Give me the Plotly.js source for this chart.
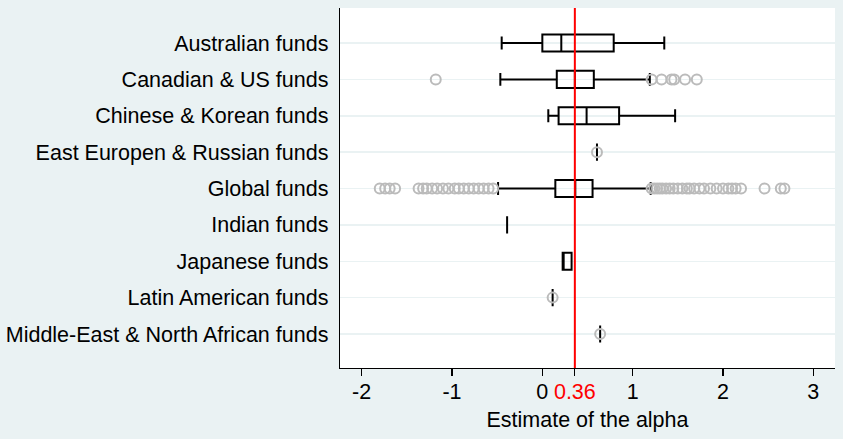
<!DOCTYPE html>
<html>
<head>
<meta charset="utf-8">
<script src="https://cdn.plot.ly/plotly-3.0.1.min.js"></script>
<style>html,body{margin:0;padding:0;background:#EAF2F3;}#chart{width:843px;height:439px;}</style>
</head>
<body>
<div id="chart"></div>
<script>
// ---- data ----
var categories = [
  "Australian funds",
  "Canadian & US funds",
  "Chinese & Korean funds",
  "East Europen & Russian funds",
  "Global funds",
  "Indian funds",
  "Japanese funds",
  "Latin American funds",
  "Middle-East & North African funds"
];
var lowerFence = [-0.45, -0.465, 0.066, 0.605, -0.49, -0.39, 0.225, 0.114, 0.64];
var q1Values    = [0.00, 0.16, 0.18, 0.605, 0.144, -0.39, 0.225, 0.114, 0.64];
var medianVals  = [0.21, 0.36, 0.49, 0.605, 0.365, -0.39, 0.225, 0.114, 0.64];
var q3Values    = [0.79, 0.57, 0.85, 0.605, 0.556, -0.39, 0.324, 0.114, 0.64];
var upperFence  = [1.35, 1.19, 1.47, 0.605, 1.20, -0.39, 0.324, 0.114, 0.64];

var outliersAustralian = [];
var outliersCanadian = [-1.18, 1.21, 1.32, 1.43, 1.46, 1.58, 1.71];
var outliersChinese = [];
var outliersEastEurope = [0.605];
var outliersGlobal = [-1.80, -1.74, -1.69, -1.63, -1.37, -1.32, -1.28, -1.22, -1.165, -1.10, -1.04,
  -0.97, -0.925, -0.87, -0.815, -0.76, -0.705, -0.65, -0.595, -0.545,
  1.21, 1.24, 1.27, 1.30, 1.33, 1.37, 1.41, 1.45, 1.50, 1.55, 1.60, 1.63, 1.68, 1.74, 1.79,
  1.86, 1.93, 2.00, 2.06, 2.10, 2.14, 2.20, 2.46, 2.64, 2.68];
var outliersIndian = [];
var outliersJapanese = [];
var outliersLatin = [0.114];
var outliersMiddleEast = [0.64];

var refLine = 0.36;
var tickValues = [-2, -1, 0, 0.36, 1, 2, 3];
var tickLabels = ["-2", "-1", "0", "<span style=\"color:#FF0000\">0.36</span>", "1", "2", "3"];

// ---- build traces ----
var outlierGroups = [outliersAustralian, outliersCanadian, outliersChinese, outliersEastEurope,
  outliersGlobal, outliersIndian, outliersJapanese, outliersLatin, outliersMiddleEast];
var ox = [], oy = [];
outlierGroups.forEach(function (g, i) {
  g.forEach(function (v) { ox.push(v); oy.push(categories[i]); });
});

var outlierTrace = {
  type: "scatter", mode: "markers", x: ox, y: oy,
  marker: { symbol: "circle-open", size: 10, color: "#BBBBBB", line: { width: 2, color: "#BBBBBB" } },
  hoverinfo: "skip", showlegend: false
};

var boxTrace = {
  type: "box", orientation: "h",
  y: categories,
  q1: q1Values, median: medianVals, q3: q3Values,
  lowerfence: lowerFence, upperfence: upperFence,
  boxpoints: false,
  width: 0.47, whiskerwidth: 0.75,
  line: { color: "#000000", width: 2 },
  fillcolor: "rgba(255,255,255,0)",
  hoverinfo: "skip", showlegend: false
};

var layout = {
  width: 843, height: 439,
  margin: { l: 339.5, r: 8, t: 8, b: 71.3 },
  paper_bgcolor: "#EAF2F3", plot_bgcolor: "#FFFFFF",
  font: { family: "Arial, 'Liberation Sans', sans-serif", size: 21.5, color: "#000000" },
  showlegend: false,
  xaxis: {
    range: [-2.24, 3.24], tickvals: tickValues, ticktext: tickLabels,
    ticks: "outside", ticklen: 7, tickwidth: 1.3, tickcolor: "#000000",
    showline: true, linecolor: "#000000", linewidth: 1.3,
    showgrid: false, zeroline: false, automargin: false,
    tickfont: { size: 21.5 }, ticklabelstandoff: -3,
    title: { text: "Estimate of the alpha", font: { size: 21.5 }, standoff: 9 }
  },
  yaxis: {
    type: "category", categoryorder: "array", categoryarray: categories,
    range: [8.935, -0.963],
    showline: true, linecolor: "#000000", linewidth: 1.3,
    showgrid: true, gridcolor: "#EAF2F3", gridwidth: 1.5,
    ticks: "", ticklabelstandoff: 6, automargin: false, zeroline: false,
    tickfont: { size: 21.5 }
  },
  shapes: [{
    type: "line", xref: "x", yref: "paper", x0: refLine, x1: refLine, y0: 0, y1: 1,
    line: { color: "#FF0000", width: 2 }
  }]
};

Plotly.newPlot("chart", [boxTrace, outlierTrace], layout, { staticPlot: true, displayModeBar: false });
</script>
</body>
</html>
